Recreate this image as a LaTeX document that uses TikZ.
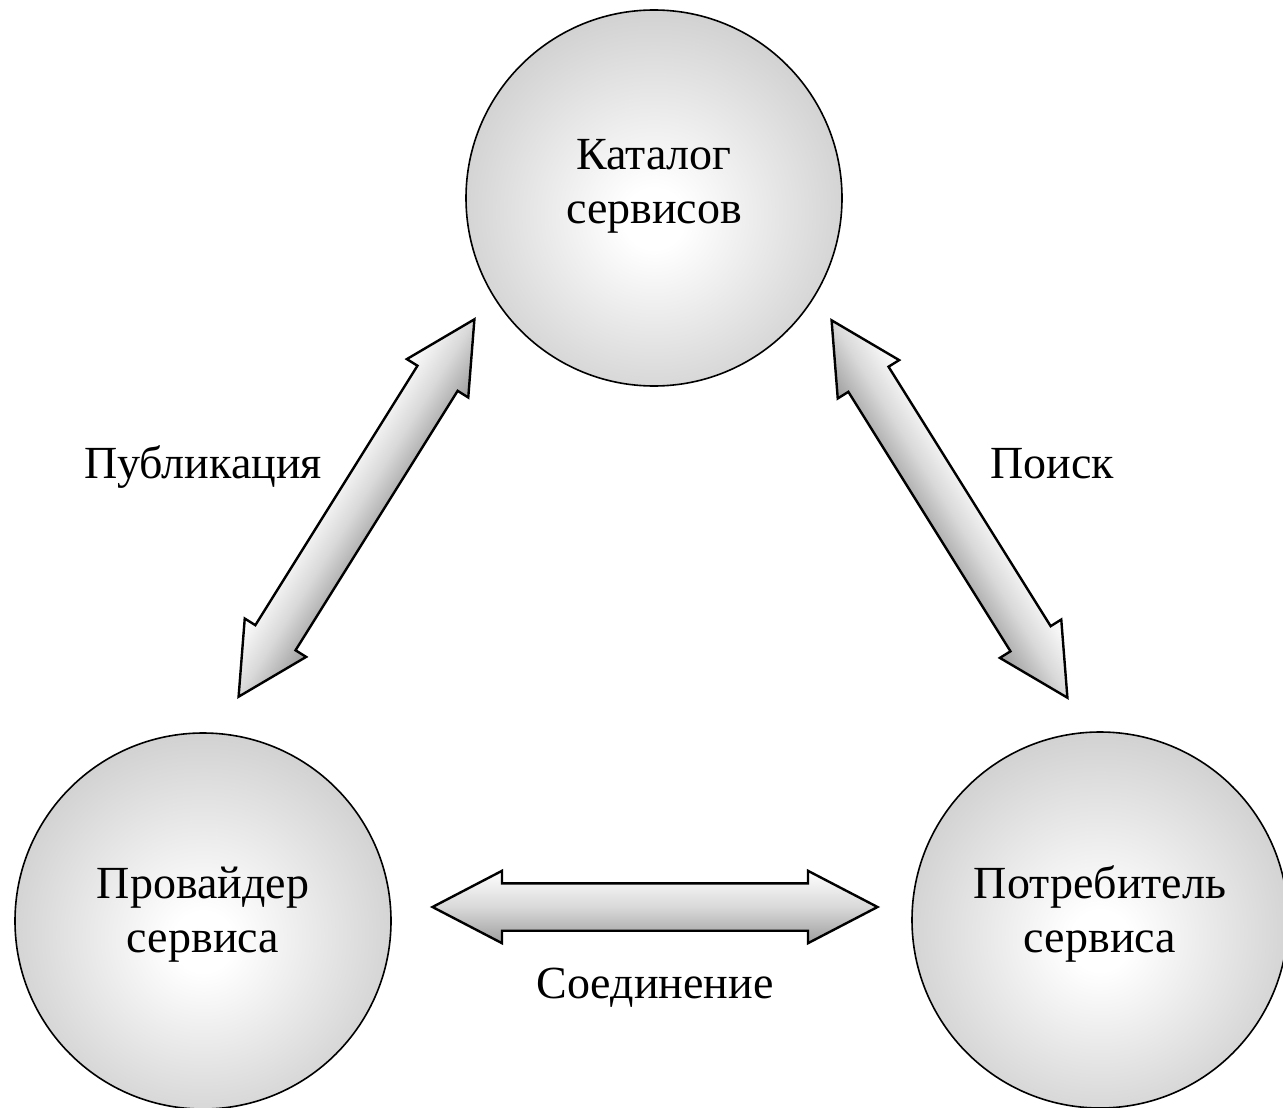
\documentclass[tikz,border=0pt]{standalone}
\usepackage{fontspec}
\setmainfont{Liberation Serif}
\usetikzlibrary{shapes.arrows,positioning,calc}

\pgfdeclareradialshading{svcball}{\pgfpoint{0bp}{-3bp}}{color(0bp)=(white); color(4bp)=(white); color(38bp)=(black!27); color(50bp)=(black!27)}
\pgfdeclareverticalshading{arrowshade}{100bp}{color(0bp)=(black!60); color(18bp)=(black!45); color(50bp)=(black!15); color(75bp)=(white); color(100bp)=(black!15)}

\begin{document}
\begin{tikzpicture}[
    x=1pt, y=-1pt,
    svc/.style={circle, draw, line width=1.6pt, minimum size=376pt, inner sep=0pt, shading=svcball},
    svctext/.style={align=center, font=\fontsize{46}{54}\selectfont},
    lbl/.style={font=\fontsize{46}{54}\selectfont, anchor=base},
    dblarrow/.style={double arrow, draw, line width=2.4pt, inner xsep=0pt, inner ysep=22.5pt, minimum height=445pt,
        double arrow head extend=12.5pt, double arrow tip angle=55, shading=arrowshade}
]
    \useasboundingbox (0,0) rectangle (1283,1108);

    % Services
    \node [svc] (catalog) at (654,198) {};
    \node [svc] (provider) at (203,921) {};
    \node [svc] (consumer) at (1100,920) {};
    \node [svctext] at ($(catalog)+(0,-12)$) {Каталог\\сервисов};
    \node [svctext] at ($(provider)+(0,-6)$) {Провайдер\\сервиса};
    \node [svctext] at ($(consumer)+(0,-6)$) {Потребитель\\сервиса};

    % Arrows (canvas turned so the shading follows them)
    \begin{scope}[transform canvas={shift={(356.5,508)}, rotate=58}]
        \node [dblarrow] (publish) {};
    \end{scope}
    \begin{scope}[transform canvas={shift={(949.5,509)}, rotate=-58}]
        \node [dblarrow] (find) {};
    \end{scope}
    \node [dblarrow] (bind) at (655,907) {};

    % Labels
    \node [lbl] at (203,478) {Публикация};
    \node [lbl] at (1052,478) {Поиск};
    \node [lbl] at (655,998) {Соединение};
\end{tikzpicture}
\end{document}
